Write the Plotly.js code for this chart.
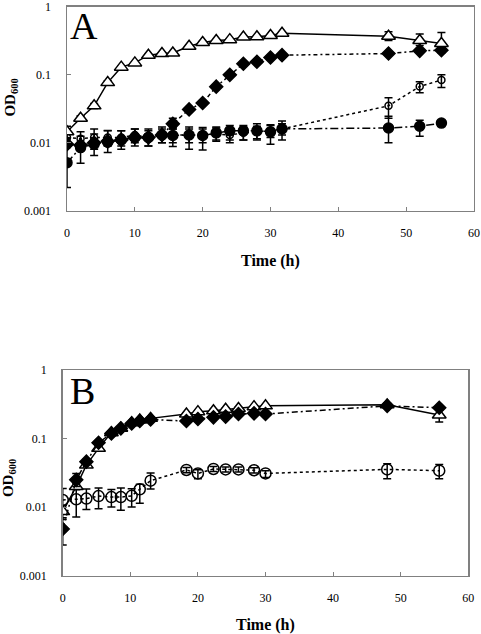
<!DOCTYPE html>
<html>
<head>
<meta charset="utf-8">
<script src="https://cdn.plot.ly/plotly-3.0.1.min.js"></script>
<style>html,body{margin:0;padding:0;background:#fff;}#chart{width:481px;height:634px;}</style>
</head>
<body>
<div id="chart"></div>
<script>
// ---------- Panel A ----------
const timeA = [0, 2, 4, 6, 8, 10, 12, 14, 15.6, 18, 20, 22, 24, 26, 28, 30, 31.7, 47.4, 52, 55.2];
const triA      = [0.0145, 0.023, 0.035, 0.077, 0.13, 0.15, 0.195, 0.207, 0.21, 0.264, 0.30, 0.32, 0.33, 0.36, 0.365, 0.38, 0.41, 0.37, 0.32, 0.29];
const triAplus  = [0.003, 0.002, 0.003, 0.005, 0.005, 0.005, 0.005, 0.005, 0.005, 0.01, 0.01, 0.01, 0.01, 0.01, 0.01, 0.01, 0.02, 0.06, 0.08, 0.13];
const triAminus = [0.003, 0.002, 0.003, 0.005, 0.005, 0.005, 0.005, 0.005, 0.005, 0.01, 0.01, 0.01, 0.01, 0.01, 0.01, 0.01, 0.02, 0.05, 0.05, 0.07];
const diaA      = [0.0095, 0.0092, 0.010, 0.0105, 0.011, 0.012, 0.012, 0.013, 0.019, 0.031, 0.0386, 0.067, 0.10, 0.146, 0.156, 0.18, 0.195, 0.206, 0.226, 0.231];
const diaAplus  = [0.001, 0.001, 0.001, 0.001, 0.001, 0.001, 0.001, 0.001, 0.004, 0.002, 0.002, 0.003, 0.004, 0.005, 0.005, 0.005, 0.005, 0.008, 0.01, 0.02];
const diaAminus = [0.001, 0.001, 0.001, 0.001, 0.001, 0.001, 0.001, 0.001, 0.003, 0.002, 0.002, 0.003, 0.004, 0.005, 0.005, 0.005, 0.005, 0.008, 0.01, 0.02];
const ocA       = [0.012, 0.0115, 0.012, 0.012, 0.012, 0.013, 0.012, 0.013, 0.013, 0.013, 0.013, 0.0135, 0.013, 0.014, 0.0145, 0.015, 0.016, 0.035, 0.0675, 0.084];
const ocAplus   = [0.003, 0.003, 0.004, 0.003, 0.003, 0.003, 0.003, 0.003, 0.003, 0.003, 0.003, 0.003, 0.003, 0.003, 0.003, 0.003, 0.003, 0.011, 0.012, 0.016];
const ocAminus  = [0.003, 0.003, 0.004, 0.003, 0.003, 0.003, 0.003, 0.003, 0.003, 0.003, 0.003, 0.003, 0.003, 0.003, 0.003, 0.003, 0.003, 0.012, 0.013, 0.019];
const fcA       = [0.0051, 0.0085, 0.0095, 0.0102, 0.011, 0.012, 0.012, 0.013, 0.0128, 0.013, 0.0128, 0.014, 0.015, 0.015, 0.015, 0.0145, 0.016, 0.0165, 0.0175, 0.0195];
const fcAplus   = [0.004, 0.004, 0.004, 0.005, 0.004, 0.004, 0.004, 0.004, 0.004, 0.004, 0.004, 0.003, 0.003, 0.003, 0.004, 0.004, 0.005, 0.008, 0.004, 0.001];
const fcAminus  = [0.0029, 0.0035, 0.003, 0.003, 0.003, 0.003, 0.003, 0.003, 0.004, 0.005, 0.005, 0.003, 0.004, 0.004, 0.004, 0.005, 0.005, 0.0065, 0.005, 0.001];

// ---------- Panel B ----------
const timeB = [0, 2, 3.5, 5.3, 7.2, 8.6, 10.2, 11.4, 13, 18.3, 20, 22.3, 24.1, 26, 28.3, 30, 48, 55.7];
const triB      = [0.0086, 0.020, 0.041, 0.072, 0.122, 0.141, 0.17, 0.186, 0.197, 0.228, 0.247, 0.255, 0.267, 0.275, 0.292, 0.30, 0.31, 0.22];
const triBplus  = [0.002, 0.002, 0.003, 0.004, 0.005, 0.005, 0.005, 0.005, 0.005, 0.01, 0.01, 0.01, 0.01, 0.01, 0.01, 0.01, 0.02, 0.04];
const triBminus = [0.002, 0.002, 0.003, 0.004, 0.005, 0.005, 0.005, 0.005, 0.005, 0.01, 0.01, 0.01, 0.01, 0.01, 0.01, 0.01, 0.02, 0.045];
const diaB      = [0.0048, 0.025, 0.046, 0.087, 0.119, 0.141, 0.166, 0.18, 0.19, 0.18, 0.193, 0.204, 0.209, 0.228, 0.233, 0.228, 0.30, 0.282];
const diaBplus  = [0.0022, 0.006, 0.004, 0.005, 0.005, 0.005, 0.005, 0.005, 0.005, 0.01, 0.01, 0.01, 0.01, 0.01, 0.01, 0.01, 0.02, 0.02];
const diaBminus = [0.002, 0.005, 0.004, 0.005, 0.005, 0.005, 0.005, 0.005, 0.005, 0.01, 0.01, 0.01, 0.01, 0.01, 0.01, 0.01, 0.02, 0.02];
const ocB       = [0.0127, 0.013, 0.0133, 0.0145, 0.014, 0.014, 0.0146, 0.0182, 0.0243, 0.0348, 0.031, 0.036, 0.0355, 0.0355, 0.0345, 0.031, 0.0355, 0.034];
const ocBplus   = [0.006, 0.005, 0.005, 0.0045, 0.004, 0.005, 0.004, 0.0034, 0.0072, 0.003, 0.004, 0.003, 0.003, 0.003, 0.003, 0.003, 0.0075, 0.008];
const ocBminus  = [0.0045, 0.0058, 0.0041, 0.005, 0.004, 0.005, 0.0046, 0.0068, 0.006, 0.003, 0.005, 0.003, 0.003, 0.003, 0.003, 0.004, 0.0095, 0.008];

const yTickVals = [0.001, 0.01, 0.1, 1];
const yTickText = ['0.001', '0.01', '0.1', '1'];
const xTickVals = [0, 10, 20, 30, 40, 50, 60];

const serif = "'Liberation Serif', 'Times New Roman', serif";

function err(plus, minus) {
  return {type: 'data', array: plus, arrayminus: minus, visible: true,
          color: '#000', thickness: 1.5, width: 4};
}
function trace(x, y, plus, minus, xa, ya, sym, size, fill, dash, name) {
  return {
    x: x, y: y, xaxis: xa, yaxis: ya, type: 'scatter', mode: 'lines+markers', name: name,
    line: {color: '#000', width: 1.5, dash: dash},
    marker: {symbol: sym, size: size, color: fill, line: {color: '#000', width: 1.5}},
    error_y: err(plus, minus), showlegend: false
  };
}

const data = [
  trace(timeA, ocA, ocAplus, ocAminus, 'x', 'y', 'circle-open', 7, '#000', 'dot', 'A open circle'),
  trace(timeA, fcA, fcAplus, fcAminus, 'x', 'y', 'circle', 10, '#000', '8px,3px,2px,3px', 'A filled circle'),
  trace(timeA, diaA, diaAplus, diaAminus, 'x', 'y', 'diamond', 10, '#000', '4px,3px,2px,3px', 'A diamond'),
  trace(timeA, triA, triAplus, triAminus, 'x', 'y', 'triangle-up', 12, '#fff', 'solid', 'A triangle'),
  trace(timeB, ocB, ocBplus, ocBminus, 'x2', 'y2', 'circle', 11, 'rgba(255,255,255,0)', 'dot', 'B open circle'),
  trace(timeB, triB, triBplus, triBminus, 'x2', 'y2', 'triangle-up', 12, '#fff', 'solid', 'B triangle'),
  trace(timeB, diaB, diaBplus, diaBminus, 'x2', 'y2', 'diamond', 10, '#000', '6px,3px,2px,3px', 'B diamond')
];

function xAxis(domain, anchor) {
  return {domain: domain, anchor: anchor, range: [0, 60], tickvals: xTickVals,
    showline: true, mirror: true, linecolor: '#808080', linewidth: 1.5,
    ticks: 'inside', ticklen: 4, tickcolor: '#808080', showgrid: false, zeroline: false,
    tickfont: {family: serif, size: 12, color: '#000'}, ticklabelstandoff: 10};
}
function yAxis(domain, anchor) {
  return {domain: domain, anchor: anchor, type: 'log', range: [-3, 0],
    tickvals: yTickVals, ticktext: yTickText,
    showline: true, mirror: true, linecolor: '#808080', linewidth: 1.5,
    ticks: 'inside', ticklen: 4, tickcolor: '#808080', showgrid: false, zeroline: false,
    tickfont: {family: serif, size: 12, color: '#000'}, ticklabelstandoff: 12};
}

const layout = {
  width: 481, height: 634,
  margin: {l: 0, r: 0, t: 0, b: 0},
  paper_bgcolor: '#fff', plot_bgcolor: '#fff',
  showlegend: false,
  xaxis: xAxis([0.1393, 0.9854], 'y'),
  yaxis: yAxis([0.6677, 0.9890], 'x'),
  xaxis2: xAxis([0.1304, 0.9736], 'y2'),
  yaxis2: yAxis([0.0920, 0.4164], 'x2'),
  annotations: [
    {text: 'A', xref: 'paper', yref: 'paper', x: 0.1746, y: 0.959, showarrow: false,
     xanchor: 'center', yanchor: 'middle', font: {family: serif, size: 38, color: '#000'}},
    {text: 'B', xref: 'paper', yref: 'paper', x: 0.1715, y: 0.3833, showarrow: false,
     xanchor: 'center', yanchor: 'middle', font: {family: serif, size: 38, color: '#000'}},
    {text: '<b>OD<sub>600</sub></b>', xref: 'paper', yref: 'paper', x: 0.022, y: 0.8454, showarrow: false,
     textangle: -90, xanchor: 'center', yanchor: 'middle', font: {family: serif, size: 15, color: '#000'}},
    {text: '<b>OD<sub>600</sub></b>', xref: 'paper', yref: 'paper', x: 0.019, y: 0.2461, showarrow: false,
     textangle: -90, xanchor: 'center', yanchor: 'middle', font: {family: serif, size: 15, color: '#000'}},
    {text: '<b>Time (h)</b>', xref: 'paper', yref: 'paper', x: 0.5628, y: 0.5883, showarrow: false,
     xanchor: 'center', yanchor: 'middle', font: {family: serif, size: 16, color: '#000'}},
    {text: '<b>Time (h)</b>', xref: 'paper', yref: 'paper', x: 0.5524, y: 0.0142, showarrow: false,
     xanchor: 'center', yanchor: 'middle', font: {family: serif, size: 16, color: '#000'}}
  ]
};

Plotly.newPlot('chart', data, layout, {staticPlot: true, displayModeBar: false});
</script>
</body>
</html>
